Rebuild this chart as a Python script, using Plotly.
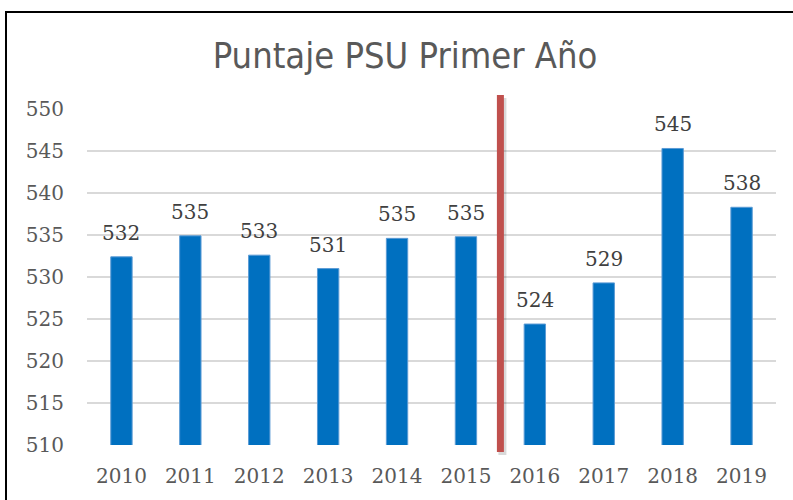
import plotly.graph_objects as go

# Datos: puntaje PSU de primer año por año de ingreso
years = ["2010", "2011", "2012", "2013", "2014", "2015", "2016", "2017", "2018", "2019"]
puntaje = [532.4, 534.9, 532.6, 531.0, 534.6, 534.8, 524.4, 529.3, 545.3, 538.3]
y_ticks = [510, 515, 520, 525, 530, 535, 540, 545, 550]

# corte entre 2015 y 2016
split_after = "2015"

W, H = 793, 500
L, R, T, B = 87, 17, 109, 55
pw = W - L - R
ph = H - T - B

num_font = "DejaVu Serif, Cambria, Liberation Serif, serif"

fig = go.Figure()
fig.add_trace(go.Bar(
    x=years, y=puntaje,
    marker=dict(color="#0070C0", line=dict(color="#5B9BD5", width=1)),
    width=0.31,
    hoverinfo="x+y",
))

# etiquetas de datos sobre cada barra (x = posicion de categoria)
for i, v in enumerate(puntaje):
    fig.add_annotation(x=i, y=v, text=f"{v:.0f}", showarrow=False,
                       yanchor="bottom", yshift=10,
                       font=dict(family=num_font, size=20, color="#404040"))

# linea roja vertical
idx = years.index(split_after) + 0.5
xp = (idx + 0.5) / len(years)
y_top = 1 + (T - 95) / ph
y_bot = -(452 - (T + ph)) / ph
fig.add_shape(type="line", xref="paper", yref="paper",
              x0=xp + 2 / pw, x1=xp + 2 / pw, y0=y_bot - 3 / ph, y1=y_top - 3 / ph,
              line=dict(color="rgba(0,0,0,0.15)", width=8), layer="above")
fig.add_shape(type="line", xref="paper", yref="paper",
              x0=xp, x1=xp, y0=y_bot, y1=y_top,
              line=dict(color="#C0504D", width=7), layer="above")

# borde del grafico
fig.add_shape(type="rect", xref="paper", yref="paper",
              x0=(6 - L) / pw, x1=(W + 10 - L) / pw,
              y0=-(H + 10 - (T + ph)) / ph, y1=(T + ph - 12) / ph,
              line=dict(color="black", width=2), fillcolor="rgba(0,0,0,0)", layer="below")

fig.update_layout(
    width=W, height=H,
    margin=dict(l=L, r=R, t=T, b=B),
    paper_bgcolor="white", plot_bgcolor="white",
    showlegend=False,
    bargap=0.69,
    title=dict(text="Puntaje PSU Primer Año", x=(405) / W, xanchor="center",
               y=1 - 55 / H, yanchor="middle",
               font=dict(family="DejaVu Sans Condensed, Liberation Sans Narrow, Roboto, sans-serif",
                         size=36, color="#595959")),
    xaxis=dict(
        type="category", range=[-0.5, len(years) - 0.5],
        showgrid=False, showline=False, ticks="",
        ticklabelstandoff=17,
        tickfont=dict(family=num_font, size=20, color="#595959"),
    ),
    yaxis=dict(
        range=[510, 550], tickvals=y_ticks, showline=False, zeroline=False,
        gridcolor="#D9D9D9", gridwidth=1.5, ticks="",
        ticklabelstandoff=22,
        tickfont=dict(family=num_font, size=20, color="#595959"),
    ),
)

fig.write_html("out.html", config={"displayModeBar": False},
               post_script="document.body.style.margin='0';")
